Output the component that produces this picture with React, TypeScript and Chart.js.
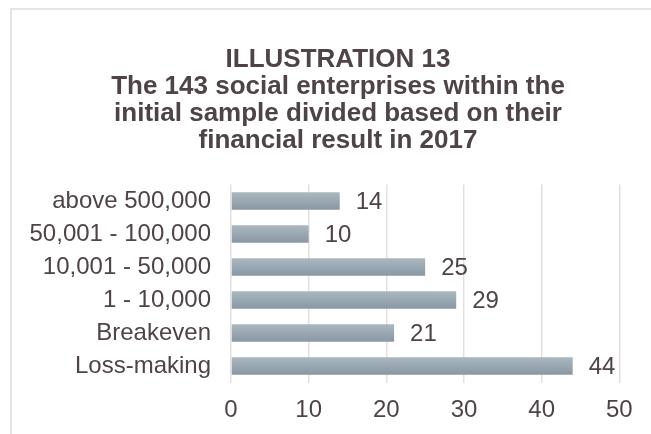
import React, { useEffect, useRef } from "react";
import { Chart, registerables } from "chart.js";

Chart.register(...registerables);

const categories = [
  "above 500,000",
  "50,001 - 100,000",
  "10,001 - 50,000",
  "1 - 10,000",
  "Breakeven",
  "Loss-making",
];
const values = [14, 10, 25, 29, 21, 44];
const titleLines = [
  "ILLUSTRATION 13",
  "The 143 social enterprises within the",
  "initial sample divided based on their",
  "financial result in 2017",
];
const xMin = 0;
const xMax = 50;
const xStep = 10;

const TEXT = "#4e4448";
const GRID = "#e4dfdf";
const FONT = '"Liberation Sans", Arial, sans-serif';

const valueLabels = {
  id: "valueLabels",
  afterDatasetsDraw(chart: any) {
    const ctx = chart.ctx;
    const meta = chart.getDatasetMeta(0);
    ctx.save();
    ctx.font = `24px ${FONT}`;
    ctx.fillStyle = TEXT;
    ctx.textAlign = "left";
    ctx.textBaseline = "middle";
    meta.data.forEach((bar: any, i: number) => {
      ctx.fillText(String(values[i]), bar.x + 16, bar.y + 1);
    });
    ctx.restore();
  },
};

export default function App() {
  const ref = useRef<HTMLCanvasElement | null>(null);

  useEffect(() => {
    if (!ref.current) return;
    const chart = new Chart(ref.current, {
      type: "bar",
      data: {
        labels: categories,
        datasets: [
          {
            data: values,
            yAxisID: "y",
            backgroundColor: (c: any) => {
              const ch = c.chart;
              const ys = ch.scales && ch.scales.y;
              if (!ys || c.dataIndex === undefined) return "#9aa8b2";
              const cy = ys.getPixelForValue(c.dataIndex);
              if (!Number.isFinite(cy)) return "#9aa8b2";
              const h = 9;
              const g = ch.ctx.createLinearGradient(0, cy - h, 0, cy + h);
              g.addColorStop(0, "#abb8c1");
              g.addColorStop(1, "#8897a3");
              return g;
            },
            borderWidth: 0,
            barPercentage: 0.53,
            categoryPercentage: 1,
          },
        ],
      },
      options: {
        indexAxis: "y",
        animation: false,
        responsive: false,
        maintainAspectRatio: false,
        layout: { padding: { left: 0, right: 0, top: 0, bottom: 17.5 } },
        plugins: {
          legend: { display: false },
          tooltip: { enabled: false },
          title: {
            display: true,
            text: titleLines,
            color: TEXT,
            font: { family: FONT, size: 26, weight: "bold", lineHeight: 27 / 26 },
            padding: { top: 36, bottom: 30.5 },
          },
        },
        scales: {
          x: {
            min: xMin,
            max: xMax,
            ticks: {
              stepSize: xStep,
              color: TEXT,
              font: { family: FONT, size: 24 },
              padding: 13,
            },
            grid: { color: GRID, lineWidth: 1.5, drawTicks: false },
            border: { display: false },
            afterFit: (s: any) => {
              s.height = 50;
            },
          },
          y: {
            ticks: {
              color: TEXT,
              font: { family: FONT, size: 24 },
              padding: 20,
            },
            grid: { display: false, drawTicks: false },
            border: { display: false },
            afterFit: (s: any) => {
              s.width = 219;
            },
          },
          yRight: {
            axis: "y",
            type: "linear",
            position: "right",
            display: true,
            ticks: { display: false },
            grid: { display: false, drawTicks: false },
            border: { display: false },
            afterFit: (s: any) => {
              s.width = 44.7;
            },
          },
        },
      },
      plugins: [valueLabels],
    });
    return () => chart.destroy();
  }, []);

  return (
    <div
      style={{
        position: "fixed",
        left: 0,
        top: 0,
        width: 651,
        height: 434,
        overflow: "hidden",
        background: "#fff",
      }}
    >
      <div
        style={{
          position: "absolute",
          left: 10,
          top: 8,
          width: 652,
          height: 440,
          border: "2px solid #e8e4e4",
          background: "#fff",
        }}
      >
        <canvas ref={ref} width={652} height={440} style={{ display: "block", width: 652, height: 440 }} />
      </div>
    </div>
  );
}
